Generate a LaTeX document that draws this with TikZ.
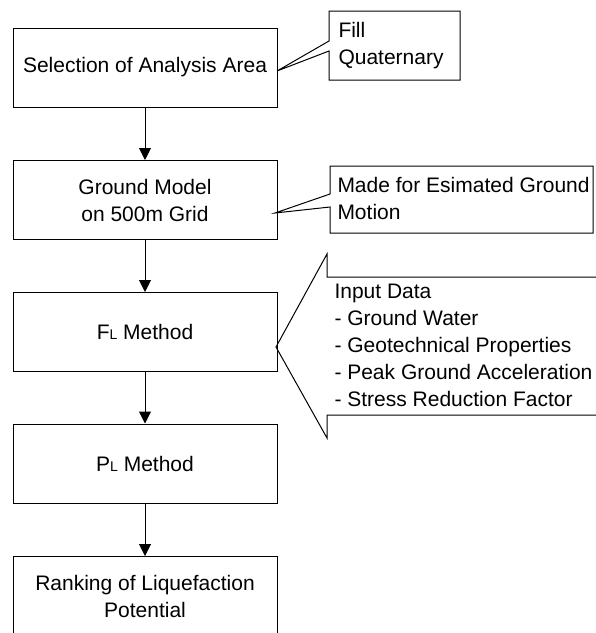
\documentclass[tikz,border=0pt]{standalone}
\usepackage{fontspec}
\setmainfont{Liberation Sans}
\usetikzlibrary{arrows.meta}
\begin{document}
\begin{tikzpicture}[x=1pt,y=-1pt,line width=1pt,font=\fontsize{21}{27}\selectfont,
	>={Triangle[width=12pt,length=12pt]},
	stepbox/.style={draw,minimum width=264pt,minimum height=79pt,align=center,inner sep=0pt},
	note/.style={anchor=west,align=left,inner sep=0pt}]
	\def\cx{145} \def\xmax{596} \def\ymax{633}
	\useasboundingbox (0,0) rectangle (\xmax,\ymax);
	\clip (0,0) rectangle (\xmax,\ymax);
	\node[stepbox] (area) at (\cx,67.5) {Selection of Analysis Area};
	\node[stepbox] (model) at (\cx,200) {Ground Model\\on 500m Grid};
	\node[stepbox] (fl) at (\cx,332) {F{\fontsize{14}{14}\selectfont L} Method};
	\node[stepbox] (pl) at (\cx,463.5) {P{\fontsize{14}{14}\selectfont L} Method};
	\node[stepbox] (rank) at (\cx,596) {Ranking of Liquefaction\\Potential};
	\draw[->] (area) -- (model);
	\draw[->] (model) -- (fl);
	\draw[->] (fl) -- (pl);
	\draw[->] (pl) -- (rank);
	\coordinate (tipA) at (277,71);
	\coordinate (tipB) at (275,213);
	\coordinate (tipC) at (276,347);
	\draw (329,11) -- (460,11) -- (460,80) -- (329,80) -- (329,51) -- (tipA) -- (329,41) -- cycle;
	\draw (330,166) -- (593,166) -- (593,233) -- (330,233) -- (330,207) -- (tipB) -- (330,194) -- cycle;
	\draw (\xmax+5,277) -- (327,277) -- (327,254) -- (tipC) -- (327,438) -- (327,415) -- (\xmax+5,415);
	\node[note] (fill) at (338,46) {Fill\\Quaternary};
	\node[note] (made) at (337,198.5) {Made for Esimated Ground\\Motion};
	\node[note] (input) at (334,345.5) {Input Data\\ - Ground Water\\ - Geotechnical Properties\\ - Peak Ground Acceleration\\ - Stress Reduction Factor};
\end{tikzpicture}
\end{document}
